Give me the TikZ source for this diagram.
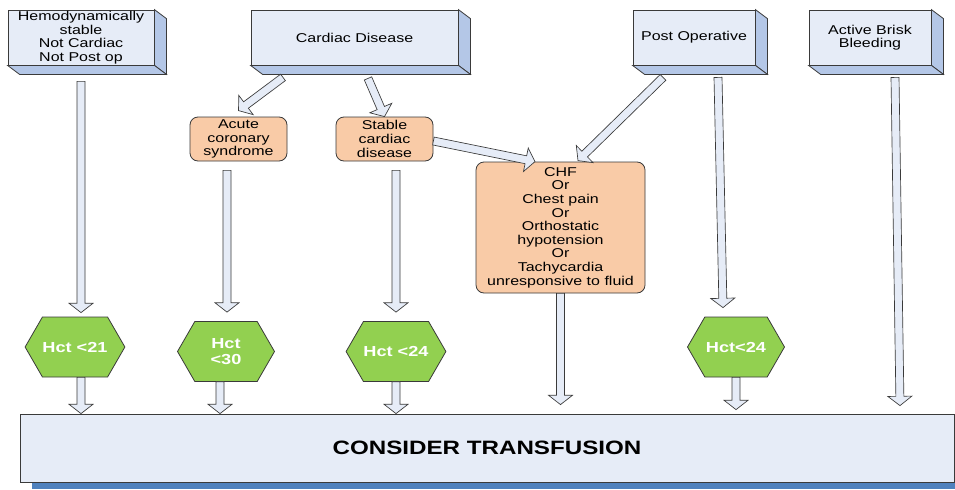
\documentclass[tikz,border=0pt]{standalone}
\usepackage{fontspec}
\setmainfont{Liberation Sans}[FakeStretch=1.25]
\usetikzlibrary{calc,shapes.symbols}

\definecolor{facefill}{HTML}{E6ECF7}
\definecolor{sidefill}{HTML}{B4C7E7}
\definecolor{peach}{HTML}{F9CBA7}
\definecolor{hexgreen}{HTML}{92D050}
\definecolor{shadowblue}{HTML}{4F81BD}
\definecolor{edgegray}{HTML}{3A3A3A}

\newcommand{\blockarrow}[2]{%
  \coordinate (ba-s) at (#1);
  \coordinate (ba-e) at (#2);
  \coordinate (ba-h) at ($(ba-e)!7pt!(ba-s)$);
  \draw[barrow] ($(ba-s)!3pt!90:(ba-e)$) -- ($(ba-h)!3pt!90:(ba-e)$) -- ($(ba-h)!9pt!90:(ba-e)$)
    -- (ba-e) -- ($(ba-h)!9pt!-90:(ba-e)$) -- ($(ba-h)!3pt!-90:(ba-e)$) -- ($(ba-s)!3pt!-90:(ba-e)$) -- cycle;
}

\begin{document}
\begin{tikzpicture}[x=0.75pt,y=-0.75pt,
    face/.style={draw=edgegray, line width=0.6pt, fill=facefill, inner sep=0pt, align=center,
      font=\fontsize{9.6}{10.2}\selectfont, minimum height=41.25pt},
    side/.style={draw=edgegray, line width=0.6pt, fill=sidefill},
    softbox/.style={draw=edgegray, line width=0.6pt, fill=peach, rounded corners=6pt, inner sep=0pt,
      align=center, font=\fontsize{9.6}{10.2}\selectfont},
    hexa/.style={signal, signal to=west and east, signal pointer angle=120, draw=edgegray,
      line width=0.6pt, fill=hexgreen, inner sep=0pt, minimum width=72.75pt, minimum height=45pt,
      align=center, text=white, font=\fontsize{10.9}{11.8}\selectfont\bfseries},
    barrow/.style={draw=edgegray, line width=0.5pt, fill=facefill, line join=miter}]
            \useasboundingbox (0,0) rectangle (955,489);
            \fill[white] (0,0) rectangle (955,489);
            \node[face, minimum width=109.5pt] (hemo) at (81,37.5) {Hemodynamically\\stable\\Not Cardiac\\Not Post op};
            \node[face, minimum width=155.25pt] (cardiac) at (354.5,37.5) {Cardiac Disease};
            \node[face, minimum width=91.5pt] (postop) at (694,37.5) {Post Operative};
            \node[face, minimum width=91.5pt] (bleed) at (870,37.5) {Active Brisk\\Bleeding};
            \foreach \b in {hemo,cardiac,postop,bleed} {
                \draw[side] (\b.north east) -- ++(12,9) -- ([shift={(12,9)}]\b.south east) -- (\b.south east) -- cycle;
                \draw[side] (\b.south west) -- ++(12,9) -- ([shift={(12,9)}]\b.south east) -- (\b.south east) -- cycle;
            }
            \node[softbox, minimum width=72.75pt, minimum height=33pt] (acs) at (238.5,139) {Acute\\coronary\\syndrome};
            \node[softbox, minimum width=72.75pt, minimum height=33pt] (stable) at (384.5,139) {Stable\\cardiac\\disease};
            \node[softbox, minimum width=126.75pt, minimum height=98.25pt] (chf) at (560.5,227.5)
                {CHF\\Or\\Chest pain\\Or\\Orthostatic\\hypotension\\Or\\Tachycardia\\unresponsive to fluid};
            \node[hexa] (hct21) at (75,347) {Hct <21};
            \node[hexa] (hct30) at (226,351.5) {Hct\\<30};
            \node[hexa] (hct24a) at (396,351.5) {Hct <24};
            \node[hexa] (hct24b) at (736,347) {Hct<24};
            \fill[shadowblue] (32,482) rectangle (955,489);
            \node[draw=edgegray, line width=0.6pt, fill=facefill, minimum width=700.5pt, minimum height=51pt,
                font=\fontsize{14.5}{16}\selectfont\bfseries] (consider) at (487,448) {CONSIDER TRANSFUSION};
            \blockarrow{[shift={(0,16)}]hemo.south}{[shift={(6,-4)}]hct21.north}
            \blockarrow{[shift={(-71.5,12)}]cardiac.south}{[shift={(0,-6)}]acs.north}
            \blockarrow{[shift={(13.5,13)}]cardiac.south}{stable.north}
            \blockarrow{[shift={(0,2)}]stable.east}{[shift={(-25.5,0)}]chf.north}
            \blockarrow{[shift={(-31,12)}]postop.south}{[shift={(17.5,-1)}]chf.north}
            \blockarrow{[shift={(24,12)}]postop.south}{[shift={(-13,-9)}]hct24b.north}
            \blockarrow{[shift={(25,12)}]bleed.south}{$(bleed.south |- consider.north)+(30,-8)$}
            \blockarrow{[shift={(-11.5,9)}]acs.south}{[shift={(1,-9)}]hct30.north}
            \blockarrow{[shift={(11.5,9)}]stable.south}{[shift={(0,-9)}]hct24a.north}
            \blockarrow{chf.south}{$(chf.south |- consider.north)+(0,-9)$}
            \blockarrow{[shift={(6,0)}]hct21.south}{$(hct21.south |- consider.north)+(6,0)$}
            \blockarrow{[shift={(-6,0)}]hct30.south}{$(hct30.south |- consider.north)+(-6,0)$}
            \blockarrow{hct24a.south}{hct24a.south |- consider.north}
            \blockarrow{hct24b.south}{$(hct24b.south |- consider.north)+(0,-4)$}
        \end{tikzpicture}
\end{document}
